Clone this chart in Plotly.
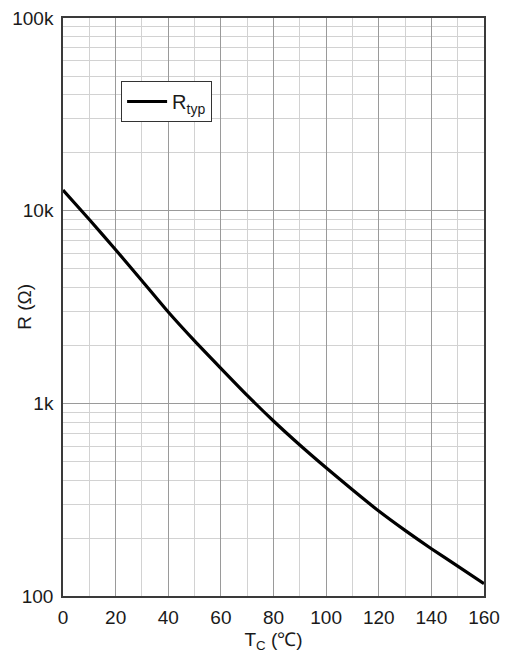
import plotly.graph_objects as go

# Typical NTC resistance versus case temperature
temp_c = [0, 10, 20, 30, 40, 50, 60, 70, 80, 90, 100, 110, 120, 130, 140, 150, 160]
r_typ = [12800, 9000, 6270, 4330, 2980, 2110, 1520, 1100, 810, 608, 463, 356, 276, 219, 176, 143, 116]

x_ticks = [0, 20, 40, 60, 80, 100, 120, 140, 160]
y_ticks = [100, 1000, 10000, 100000]
y_tick_text = ["100", "1k", "10k", "100k"]

# minor grid positions on the log axis: 2..9 within each decade
y_minor = [m * d for d in (100, 1000, 10000) for m in range(2, 10)]

font = dict(family="Liberation Sans, Arial, sans-serif", size=19, color="#1a1a1a")

fig = go.Figure()
fig.add_trace(go.Scatter(
    x=temp_c, y=r_typ, mode="lines", name="R<sub>typ</sub>",
    line=dict(color="black", width=3.2, shape="spline", smoothing=0.6),
))

fig.update_layout(
    width=508, height=659,
    margin=dict(l=63, r=24, t=18, b=63, autoexpand=False),
    paper_bgcolor="white", plot_bgcolor="white",
    font=font,
    showlegend=True,
    legend=dict(
        x=0.138, y=0.891, xanchor="left", yanchor="top",
        bgcolor="white", bordercolor="#333333", borderwidth=1,
        font=dict(family=font["family"], size=20, color="#1a1a1a"),
        itemwidth=40,
    ),
    # vertical axis caption, placed beside the tick labels
    annotations=[dict(
        text="R (Ω)", textangle=-90, font=font, showarrow=False,
        xref="paper", yref="paper", x=-0.093, y=0.5,
        xanchor="center", yanchor="middle",
    )],
)

fig.update_xaxes(
    range=[0, 160], tickvals=x_ticks, ticks="", ticklabelstandoff=3,
    automargin=False,
    showgrid=True, gridcolor="#9a9a9a", gridwidth=1,
    minor=dict(dtick=10, tick0=0, showgrid=True, gridcolor="#d2d2d2", gridwidth=1, ticks=""),
    showline=True, linecolor="#3a3a3a", linewidth=1.5, mirror=True,
    zeroline=False,
    title=dict(text="T<sub>C</sub> (℃)", font=font, standoff=6),
)

fig.update_yaxes(
    type="log", range=[2, 5], tickvals=y_ticks, ticktext=y_tick_text, ticks="",
    ticklabelstandoff=4, automargin=False,
    showgrid=True, gridcolor="#9a9a9a", gridwidth=1,
    minor=dict(tickvals=y_minor, showgrid=True, gridcolor="#d2d2d2", gridwidth=1, ticks=""),
    showline=True, linecolor="#3a3a3a", linewidth=1.5, mirror=True,
    zeroline=False,
)

fig.write_html("out.html")
